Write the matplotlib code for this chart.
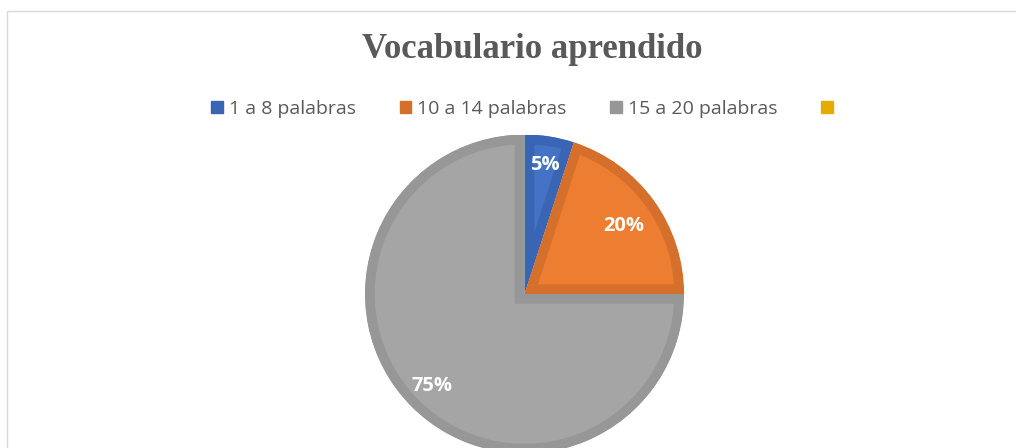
import matplotlib.pyplot as plt
from matplotlib.patches import Rectangle, Patch, Wedge

CATEGORIES   = ['1 a 8 palabras', '10 a 14 palabras', '15 a 20 palabras', '']
VALUES       = [5, 20, 75, 0]
FILL_COLORS  = ['#4472C4', '#ED7D31', '#A5A5A5', '#FFC000']
EDGE_COLORS  = ['#3A65B4', '#D4702C', '#979797', '#E5AC00']
TITLE        = 'Vocabulario aprendido'

W, H, DPI = 1016, 448, 100


def main():
    fig = plt.figure(figsize=(W / DPI, H / DPI), dpi=DPI)

    # chart area frame
    fig.patches.append(Rectangle((7 / W, -0.1), 1.2, 1.1 - 11 / H,
                                 transform=fig.transFigure, fill=False,
                                 edgecolor='#D9D9D9', linewidth=1))

    # pie placed in pixel units: center (524.5, 294), radius 159.5
    cx, cy, r = 524.5, 294, 159.5
    ax = fig.add_axes([(cx - r) / W, (H - cy - r) / H, 2 * r / W, 2 * r / H])

    # zero-valued slices get no wedge, only a legend entry
    shown = [i for i, v in enumerate(VALUES) if v > 0]
    wedges, texts, autotexts = ax.pie(
        [VALUES[i] for i in shown], colors=[FILL_COLORS[i] for i in shown],
        startangle=90, counterclock=False, radius=1, autopct='%.0f%%',
        pctdistance=0.82,
        textprops=dict(color='white', fontsize=14.5, fontweight='bold',
                       family='Open Sans'))
    ax.set_xlim(-1, 1)
    ax.set_ylim(-1, 1)
    ax.axis('off')
    # thick border kept inside each slice
    for w, i in zip(wedges, shown):
        w.set_edgecolor(EDGE_COLORS[i])
        w.set_linewidth(14)
        clip = Wedge(w.center, w.r, w.theta1, w.theta2,
                     transform=ax.transData)
        w.set_clip_path(clip)
        w.set_clip_on(True)
    # 20% label sits a bit closer to the center
    autotexts[1].set_position((0.755 * 0.826, 0.755 * 0.564))

    fig.text(532 / W, 1 - 50 / H, TITLE, ha='center', va='center',
             fontsize=25, fontweight='bold', family='Liberation Serif',
             color='#595959')

    handles = [Patch(facecolor=c, edgecolor=c) for c in EDGE_COLORS]
    fig.legend(handles, CATEGORIES, loc='center', ncol=4,
               bbox_to_anchor=(525 / W, 1 - 109 / H), frameon=False,
               handlelength=0.6, handleheight=0.6,
               handletextpad=0.3, columnspacing=2.25,
               prop=dict(family='Open Sans', size=14),
               labelcolor='#595959')

    fig.savefig('out.png', dpi=DPI)


if __name__ == '__main__':
    main()
